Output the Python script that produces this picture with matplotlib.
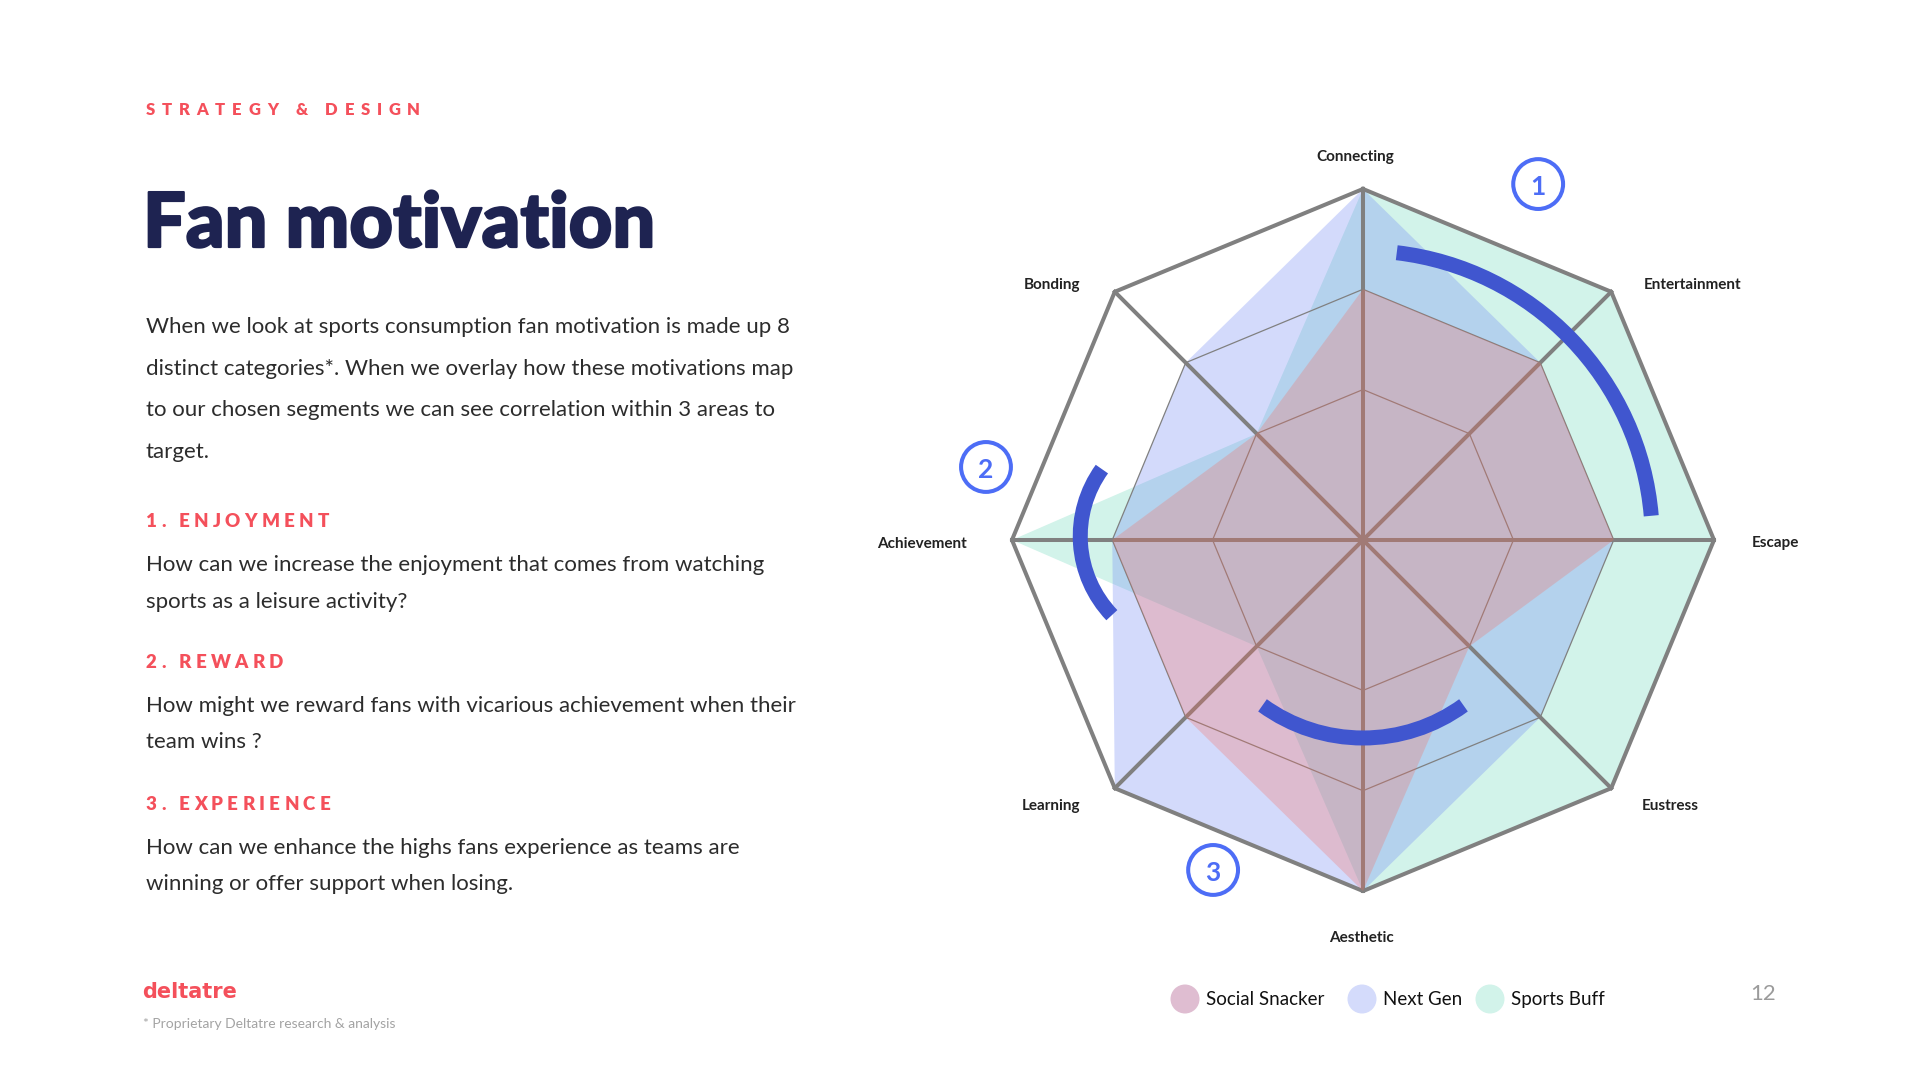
import numpy as np
import matplotlib
matplotlib.use('Agg')
import matplotlib.pyplot as plt
import matplotlib.patheffects as pe
from matplotlib.patches import Polygon, Arc, Circle

# ---------------- data ----------------
categories = ['Connecting', 'Entertainment', 'Escape', 'Eustress',
              'Aesthetic', 'Learning', 'Achievement', 'Bonding']
# motivation level per segment: 1 = low, 2 = medium, 3 = high
social_snacker = [2, 2, 2, 1, 3, 2, 2, 1]
next_gen = [3, 2, 2, 2, 3, 3, 2, 2]
sports_buff = [3, 3, 3, 3, 3, 1, 3, 1]
grid_levels = [1, 2, 3]
segment_names = ['Social Snacker', 'Next Gen', 'Sports Buff']

kicker = 'STRATEGY & DESIGN'
title = 'Fan motivation'
intro_lines = ['When we look at sports consumption fan motivation is made up 8',
               'distinct categories*. When we overlay how these motivations map',
               'to our chosen segments we can see correlation within 3 areas to',
               'target.']
section_heads = ['1. ENJOYMENT', '2. REWARD', '3. EXPERIENCE']
section_lines = [['How can we increase the enjoyment that comes from watching',
                  'sports as a leisure activity?'],
                 ['How might we reward fans with vicarious achievement when their',
                  'team wins ?'],
                 ['How can we enhance the highs fans experience as teams are',
                  'winning or offer support when losing.']]
footnote = '* Proprietary Deltatre research & analysis'
page_no = '12'

# ---------------- style ----------------
RED = '#f4505b'
NAVY = '#1e2351'
TEXT = '#2c2c2c'
GRID = '#808080'
ARC = '#4056cf'
BADGE = '#4d6df6'
MINT = '#d2f3ea'
LAVENDER = (112 / 255, 135 / 255, 245 / 255)
CORAL = (248 / 255, 108 / 255, 95 / 255)
legend_colors = ['#dfbdd1', '#d4dbfb', '#d2f3ea']

plt.rcParams['font.family'] = ['Lato', 'DejaVu Sans']

fig = plt.figure(figsize=(19.2, 10.8), dpi=100)
fig.patch.set_facecolor('white')

# page axes in pixel units (y down)
page = fig.add_axes([0, 0, 1, 1])
page.set_xlim(0, 1920)
page.set_ylim(1080, 0)
page.axis('off')
rend = fig.canvas.get_renderer()


def tracked(x, y, s, track, space, **kw):
    # letter-spaced text, one glyph at a time
    for ch in s:
        if ch == ' ':
            x += space
            continue
        t = page.text(x, y, ch, va='baseline', **kw)
        x += t.get_window_extent(renderer=rend).width + track


tracked(146, 115, kicker, 6.7, 11, fontsize=12, fontweight='heavy', color=RED)
page.text(143, 247, title, fontsize=54.5, fontweight='black', color=NAVY, va='baseline',
          path_effects=[pe.withStroke(linewidth=1.6, foreground=NAVY)])

for i, line in enumerate(intro_lines):
    page.text(146, 333 + i * 41.7, line, fontsize=16, color=TEXT, va='baseline')

head_y = [527, 668, 810]
for hy, head, lines in zip(head_y, section_heads, section_lines):
    tracked(146, hy, head, 4.2, 9, fontsize=13.5, fontweight='heavy', color=RED)
    for j, line in enumerate(lines):
        page.text(146, hy + 44 + j * 36.5, line, fontsize=16, color=TEXT, va='baseline')

page.text(142, 998, 'deltatre', family='DejaVu Sans', fontsize=15, fontweight='bold', color=RED, va='baseline')
page.text(143, 1028, footnote, fontsize=10, color='#a3a3a3', va='baseline')
page.text(1763, 1000, page_no, fontsize=16, color='#9b9b9b', ha='center', va='baseline')

# legend
leg_cx = [1185, 1362, 1490]
for cx, name, col in zip(leg_cx, segment_names, legend_colors):
    page.add_patch(Circle((cx, 999), 14.5, color=col, lw=0))
    page.text(cx + 21, 1005, name, fontsize=13.5, color='#111111', va='baseline')

# ---------------- radar chart ----------------
ax = fig.add_axes([854 / 1920, 31 / 1080, 1018 / 1920, 1018 / 1080])
ax.set_xlim(-1.45, 1.45)
ax.set_ylim(-1.45, 1.45)
ax.set_aspect('equal')
ax.axis('off')

r_origin, r_max = -0.5, 3
theta = np.deg2rad(90 - 45 * np.arange(len(categories)))


def radius(v):
    return (np.asarray(v, dtype=float) - r_origin) / (r_max - r_origin)


def xy(values):
    r = radius(values)
    return np.column_stack([r * np.cos(theta), r * np.sin(theta)])


ax.add_patch(Polygon(xy(sports_buff), closed=True, facecolor=MINT, lw=0, zorder=1))
ax.add_patch(Polygon(xy(next_gen), closed=True, facecolor=LAVENDER, alpha=0.3, lw=0, zorder=2))

for lv in grid_levels:
    ring = xy([lv] * len(categories))
    ring = np.vstack([ring, ring[:1]])
    outer = lv == grid_levels[-1]
    ax.plot(ring[:, 0], ring[:, 1], color=GRID, lw=2.9 if outer else 0.9,
            solid_joinstyle='miter', zorder=3)
tip = xy([grid_levels[-1]] * len(categories))
for px, py in tip:
    ax.plot([0, px], [0, py], color=GRID, lw=2.9, zorder=3)

ax.add_patch(Polygon(xy(social_snacker), closed=True, facecolor=CORAL, alpha=0.28, lw=0, zorder=4))

label_pos = [(-0.023, 1.080), (0.940, 0.715), (1.176, -0.020), (0.875, -0.769),
             (-0.003, -1.145), (-0.889, -0.769), (-1.256, -0.023), (-0.886, 0.715)]
for (lx, ly), name in zip(label_pos, categories):
    ax.text(lx, ly, name, ha='center', va='baseline', fontsize=11,
            fontweight='bold', color='#222222')

# highlight arcs
arcs = [((0, 0), 0.824, 4.8, 83.3),
        ((-0.479, 0.011), 0.3265, 144.2, 223.6),
        ((0, -0.077), 0.487, 234, 306)]
for c, r, t1, t2 in arcs:
    ax.add_patch(Arc(c, 2 * r, 2 * r, theta1=t1, theta2=t2, lw=10.8,
                     color=ARC, capstyle='butt', zorder=6))

badges = [((0.499, 1.014), '1'), ((-1.074, 0.208), '2'), ((-0.427, -0.940), '3')]
for (bx, by), num in badges:
    ax.add_patch(Circle((bx, by), 0.071, fill=False, ec=BADGE, lw=2.9, zorder=6))
    ax.text(bx, by - 0.03, num, ha='center', va='baseline', fontsize=19,
            fontweight='bold', color=BADGE, zorder=7)

fig.savefig('out.png', dpi=100, facecolor='white')
